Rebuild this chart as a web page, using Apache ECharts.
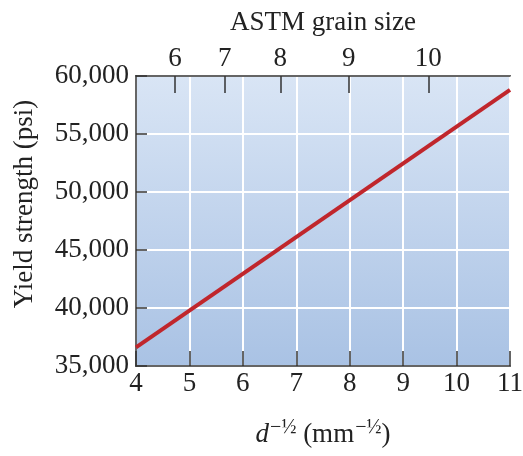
<!DOCTYPE html>
<html>
<head>
<meta charset="utf-8">
<script src="https://cdn.jsdelivr.net/npm/echarts@6/dist/echarts.min.js"></script>
<style>
  html, body { margin: 0; padding: 0; background: #fff; }
  #chart { width: 523px; height: 456px; }
</style>
</head>
<body>
<div id="chart"></div>
<script>
// bottom axis: d^-1/2 in mm^-1/2
const xTicks = [4, 5, 6, 7, 8, 9, 10, 11];
const yTicks = [35000, 40000, 45000, 50000, 55000, 60000];
// top axis: ASTM grain size, placed at their d^-1/2 positions
const astmLabels = [6, 7, 8, 9, 10];
const astmPositions = [4.73, 5.66, 6.70, 7.98, 9.47];
// yield strength line (Hall-Petch)
const lineX = [4, 11];
const lineY = [36600, 58800];

const serif = "Liberation Serif";
const txt = "#222";

function commas(v) {
  return String(v).replace(/\B(?=(\d{3})+(?!\d))/g, ",");
}

const chart = echarts.init(document.getElementById("chart"));
chart.setOption({
  animation: false,
  backgroundColor: "#fff",
  grid: {
    left: 136,
    right: 13,
    top: 76,
    bottom: 90,
    outerBoundsMode: "none",
    containLabel: false,
    show: true,
    borderColor: "#333",
    borderWidth: 1.5,
    backgroundColor: new echarts.graphic.LinearGradient(0, 0, 0, 1, [
      { offset: 0, color: "#d9e5f5" },
      { offset: 1, color: "#a9c2e4" },
    ]),
  },
  xAxis: [
    {
      type: "value",
      position: "bottom",
      min: xTicks[0],
      max: xTicks[xTicks.length - 1],
      interval: 1,
      axisLine: { show: true, lineStyle: { color: "#333", width: 1.5 } },
      axisTick: { show: true, inside: true, length: 15, lineStyle: { color: "#333", width: 1.5 } },
      axisLabel: { color: txt, fontFamily: serif, fontSize: 27, margin: 4 },
      splitLine: { show: true, lineStyle: { color: "#fff", width: 2 } },
      name: "{d|d}{s|−½}{t| (mm}{s|−½}{t|)}",
      nameLocation: "middle",
      nameGap: 52,
      nameTextStyle: {
        rich: {
          d: { fontFamily: serif, fontStyle: "italic", fontSize: 27, color: txt },
          t: { fontFamily: serif, fontSize: 27, color: txt },
          s: { fontFamily: serif, fontSize: 20, color: txt, padding: [0, 0, 14, 1] },
        },
      },
    },
    {
      type: "value",
      position: "top",
      min: xTicks[0],
      max: xTicks[xTicks.length - 1],
      axisLine: { show: true, lineStyle: { color: "#333", width: 1.5 } },
      axisTick: {
        show: true,
        inside: true,
        length: 17,
        customValues: astmPositions,
        lineStyle: { color: "#333", width: 1.5 },
      },
      axisLabel: {
        customValues: astmPositions,
        color: txt,
        fontFamily: serif,
        fontSize: 27,
        margin: 4,
        formatter: (v) => {
          const i = astmPositions.indexOf(v);
          return i >= 0 ? String(astmLabels[i]) : "";
        },
      },
      splitLine: { show: false },
      name: "ASTM grain size",
      nameLocation: "middle",
      nameGap: 40,
      nameTextStyle: { color: txt, fontFamily: serif, fontSize: 27 },
    },
  ],
  yAxis: {
    type: "value",
    min: yTicks[0],
    max: yTicks[yTicks.length - 1],
    interval: 5000,
    axisLine: { show: true, lineStyle: { color: "#333", width: 1.5 } },
    axisTick: { show: true, inside: true, length: 11, lineStyle: { color: "#333", width: 1.5 } },
    axisLabel: { color: txt, fontFamily: serif, fontSize: 27, margin: 7, formatter: commas },
    splitLine: { show: true, lineStyle: { color: "#fff", width: 2 } },
    name: "Yield strength (psi)",
    nameLocation: "middle",
    nameGap: 98,
    nameTextStyle: { color: txt, fontFamily: serif, fontSize: 27, padding: [0, 0, 0, 34] },
  },
  series: [
    {
      type: "line",
      xAxisIndex: 0,
      data: lineX.map((x, i) => [x, lineY[i]]),
      showSymbol: false,
      lineStyle: { color: "#c0262c", width: 4 },
    },
  ],
});
</script>
</body>
</html>
